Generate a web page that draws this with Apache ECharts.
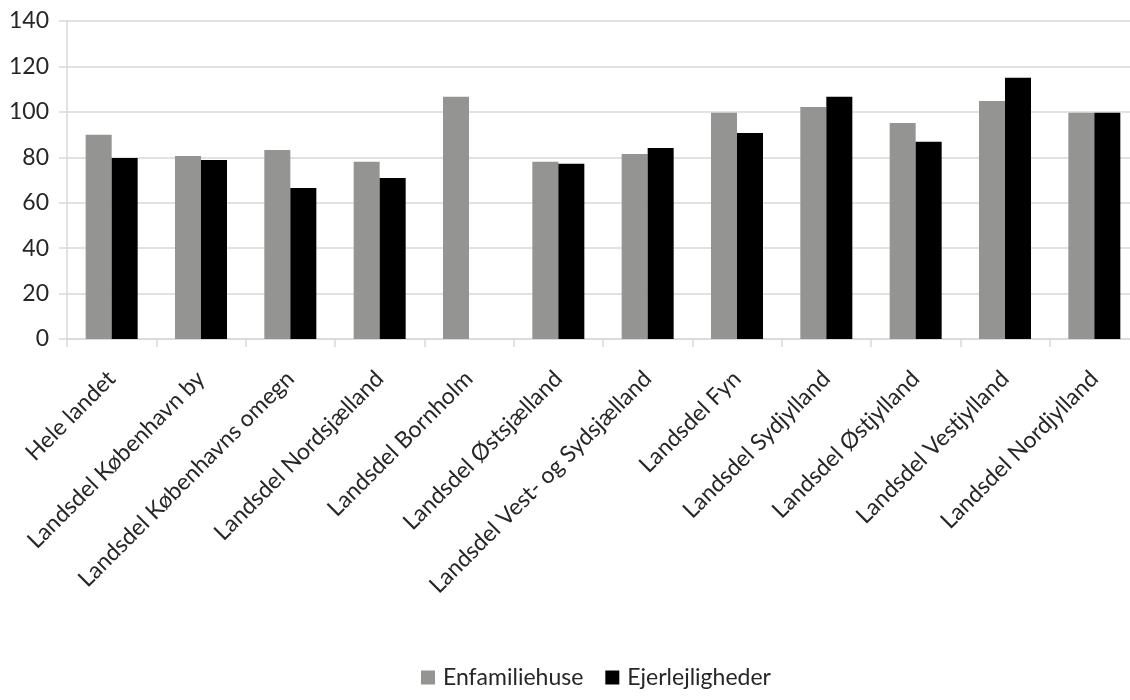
<!DOCTYPE html>
<html>
<head>
<meta charset="utf-8">
<script src="https://cdn.jsdelivr.net/npm/echarts@6/dist/echarts.min.js"></script>
<style>
  html, body { margin: 0; padding: 0; background: #ffffff; }
  #chart { width: 1130px; height: 700px; }
</style>
</head>
<body>
<div id="chart"></div>
<script>
// Regions (landsdele) on the category axis
const categories = [
  'Hele landet',
  'Landsdel København by',
  'Landsdel Københavns omegn',
  'Landsdel Nordsjælland',
  'Landsdel Bornholm',
  'Landsdel Østsjælland',
  'Landsdel Vest- og Sydsjælland',
  'Landsdel Fyn',
  'Landsdel Sydjylland',
  'Landsdel Østjylland',
  'Landsdel Vestjylland',
  'Landsdel Nordjylland'
];

// Index values per region
const enfamiliehuse = [89.9, 80.6, 83.2, 78.0, 106.6, 78.0, 81.5, 99.6, 102.1, 95.1, 104.8, 99.6];
const ejerlejligheder = [79.7, 78.8, 66.5, 70.9, null, 77.1, 84.1, 90.7, 106.6, 86.8, 115.0, 99.6];

const seriesNames = ['Enfamiliehuse', 'Ejerlejligheder'];

const fontFamily = 'Lato, "Open Sans", sans-serif';
const textColor = '#262626';
const lineColor = '#d9d9d9';

const chart = echarts.init(document.getElementById('chart'), null, { renderer: 'canvas' });

chart.setOption({
  animation: false,
  backgroundColor: '#ffffff',
  textStyle: { fontFamily: fontFamily },
  grid: {
    left: 67,
    top: 21,
    width: 1072,
    height: 318,
    containLabel: false,
    outerBoundsMode: 'none'
  },
  legend: {
    data: seriesNames,
    left: 416,
    top: 661,
    icon: 'rect',
    itemWidth: 14,
    itemHeight: 14,
    itemGap: 22,
    textStyle: { fontSize: 23, color: textColor, fontFamily: fontFamily, padding: [0, 0, 0, 3] }
  },
  xAxis: {
    type: 'category',
    data: categories,
    boundaryGap: true,
    axisLine: { show: true, lineStyle: { color: lineColor, width: 1.5 } },
    axisTick: { show: true, length: 8, alignWithLabel: false, lineStyle: { color: lineColor, width: 1.5 } },
    axisLabel: {
      interval: 0,
      rotate: 45,
      margin: 36,
      fontSize: 23,
      color: textColor,
      fontFamily: fontFamily,
      padding: [12, 0, 0, 0]
    },
    splitLine: { show: false }
  },
  yAxis: {
    type: 'value',
    min: 0,
    max: 140,
    interval: 20,
    axisLine: { show: true, lineStyle: { color: lineColor, width: 1.5 } },
    axisTick: { show: true, length: 8, lineStyle: { color: lineColor, width: 1.5 } },
    axisLabel: {
      fontSize: 23,
      color: textColor,
      margin: 18,
      fontFamily: fontFamily
    },
    splitLine: { show: true, lineStyle: { color: lineColor, width: 1.5 } }
  },
  series: [
    {
      name: seriesNames[0],
      type: 'bar',
      data: enfamiliehuse,
      itemStyle: { color: '#949492' },
      barWidth: 26,
      barGap: '0%'
    },
    {
      name: seriesNames[1],
      type: 'bar',
      data: ejerlejligheder,
      itemStyle: { color: '#000000' },
      barWidth: 26,
      barGap: '0%'
    }
  ]
});
</script>
</body>
</html>
